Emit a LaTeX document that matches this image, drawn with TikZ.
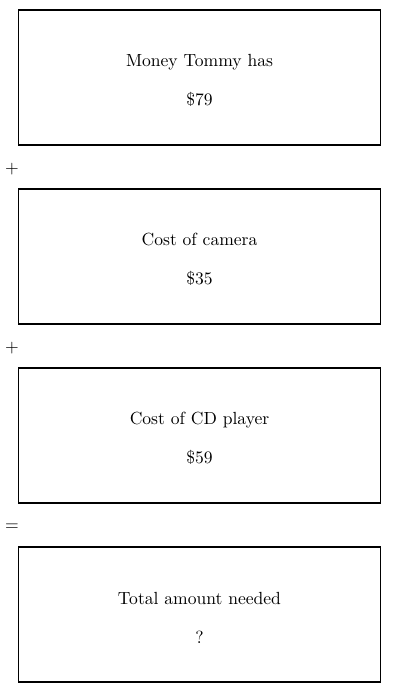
\documentclass[tikz,border=0pt]{standalone}
\begin{document}
\begin{tikzpicture}[x=0.02cm,y=-0.02cm]
				\tikzset{box/.style={draw,line width=0.6pt,minimum width=7.26cm,minimum height=2.7cm,align=center,inner sep=0pt},
				op/.style={font=\sffamily,inner sep=0pt}}
				\useasboundingbox (0,0) rectangle (400,693);
				\node[box] (money) at (199.5,77.5) {\rule{0pt}{10.5pt}Money Tommy has\\[10pt]\$79};
				\node[box] (camera) at (199.5,256.5) {\rule{0pt}{10.5pt}Cost of camera\\[10pt]\$35};
				\node[box] (player) at (199.5,435.5) {\rule{0pt}{10.5pt}Cost of CD player\\[10pt]\$59};
				\node[box] (total) at (199.5,614.5) {\rule{0pt}{10.5pt}Total amount needed\\[10pt]?};

				\node[op] (plusa) at (12,169) {+};
				\node[op] (plusb) at (12,348) {+};
				\node[op] (equal) at (12,527) {=};
			\end{tikzpicture}
\end{document}
